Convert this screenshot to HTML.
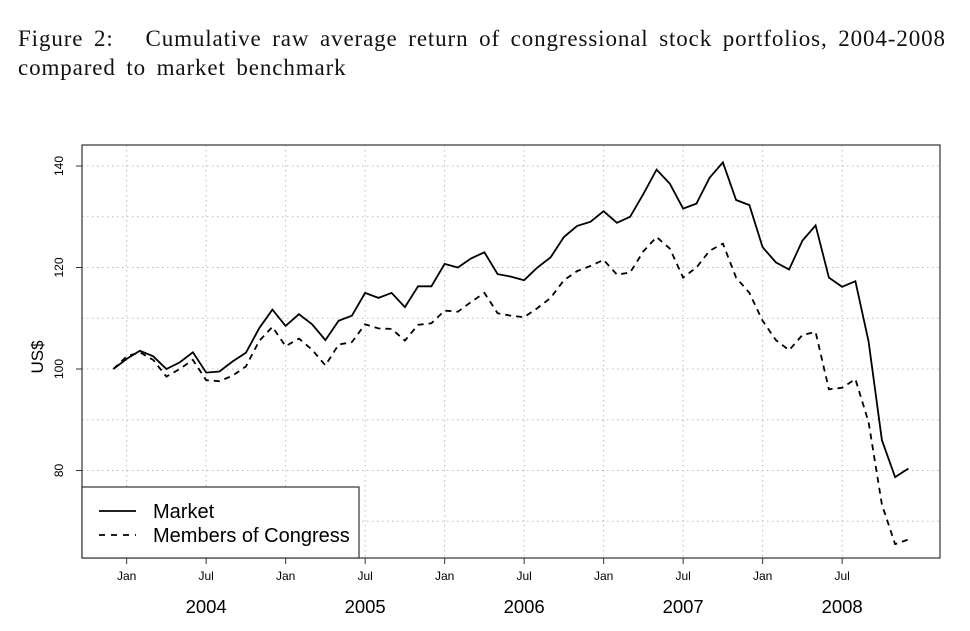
<!DOCTYPE html>
<html><head><meta charset="utf-8"><style>
body{margin:0;background:#fff;width:970px;height:631px;overflow:hidden}
.t{position:absolute;left:18px;font-family:"Liberation Serif",serif;font-size:23px;color:#111;letter-spacing:0.88px;word-spacing:4px;white-space:nowrap}
</style></head><body>
<div class="t" style="top:26px">Figure 2: &nbsp;&nbsp;Cumulative raw average return of congressional stock portfolios, 2004-2008</div>
<div class="t" style="top:55px">compared to market benchmark</div>
<svg id="c" width="970" height="631" style="position:absolute;left:0;top:0" font-family="Liberation Sans, sans-serif"></svg>
<script>
const market=[100,102,103.6,102.5,100,101.3,103.3,99.3,99.5,101.5,103.2,108,111.7,108.5,110.8,108.8,105.7,109.5,110.5,115,114,115,112.2,116.3,116.3,120.7,120,121.8,123,118.7,118.2,117.5,120,122,126,128.2,129,131.1,128.8,130,134.5,139.3,136.5,131.6,132.6,137.7,140.7,133.3,132.3,124,121,119.6,125.3,128.3,118,116.2,117.3,105.4,86,78.7,80.4];
const congress=[100,102.5,103.3,101.8,98.5,100,101.8,97.8,97.6,98.7,100.5,105.5,108.3,104.5,106,103.8,100.7,104.8,105.3,108.8,108,107.9,105.6,108.7,109,111.5,111.3,113.2,115,111,110.5,110.2,112,114,117.5,119.3,120.3,121.5,118.6,119,123.2,126,123.7,118,120,123.3,124.7,118,115,109.5,105.7,103.7,106.7,107.3,96,96.3,98,89.5,73.3,65.5,66.4];
const yTicks=[80,100,120,140];
const yGrid=[70,80,90,100,110,120,130,140];
const monthTicks=[1,7,13,19,25,31,37,43,49,55];
const monthLabels=["Jan","Jul","Jan","Jul","Jan","Jul","Jan","Jul","Jan","Jul"];
const years=["2004","2005","2006","2007","2008"];
const L=82,R=940,T=145,B=558;
const X=i=>113.4+i*13.25;
const Y=v=>369-(v-100)*5.075;
const svg=document.getElementById('c');
const NS='http://www.w3.org/2000/svg';
function el(t,a,p){const e=document.createElementNS(NS,t);for(const k in a)e.setAttribute(k,a[k]);(p||svg).appendChild(e);return e;}
yGrid.forEach(v=>{const g=el('line',{x1:L,x2:R,y1:Y(v),y2:Y(v),stroke:'#bbb','stroke-dasharray':'1.5,3.5','stroke-width':1});

});
monthTicks.forEach(m=>{const g=el('line',{x1:X(m),x2:X(m),y1:T,y2:B,stroke:'#bbb','stroke-dasharray':'1.5,3.5','stroke-width':1});

});
function path(d,dash,name){const p=el('path',{d:d.map((v,i)=>(i?'L':'M')+X(i).toFixed(1)+','+Y(v).toFixed(1)).join(''),fill:'none',stroke:'#000','stroke-width':1.8,'stroke-dasharray':dash});

}
path(market,'none','market-line');
path(congress,'6,5','congress-line');
const box=el('rect',{x:L,y:T,width:R-L,height:B-T,fill:'none',stroke:'#333','stroke-width':1.2});


yTicks.forEach(v=>{el('line',{x1:L-6,x2:L,y1:Y(v),y2:Y(v),stroke:'#333'});
const t=el('text',{x:0,y:0,'font-size':12,'text-anchor':'middle',transform:`translate(63,${Y(v)}) rotate(-90)`});t.textContent=v;

});
monthTicks.forEach((m,i)=>{el('line',{x1:X(m),x2:X(m),y1:B,y2:B+6,stroke:'#333'});
const t=el('text',{x:X(m),y:580,'font-size':12,'text-anchor':'middle'});t.textContent=monthLabels[i];

});
years.forEach((y,i)=>{const t=el('text',{x:X(7+12*i),y:613,'font-size':18.5,'text-anchor':'middle'});t.textContent=y;

});
const yt=el('text',{x:0,y:0,'font-size':17,'text-anchor':'middle',transform:'translate(43,357) rotate(-90)'});yt.textContent='US$';


const lg=el('g',{});


el('rect',{x:L,y:487,width:277,height:71,fill:'#fff',stroke:'#333','stroke-width':1.2},lg);
el('line',{x1:99,x2:136,y1:511,y2:511,stroke:'#000','stroke-width':1.8},lg);
el('line',{x1:99,x2:136,y1:535,y2:535,stroke:'#000','stroke-width':1.8,'stroke-dasharray':'6,6'},lg);
const l1=el('text',{x:153,y:518,'font-size':20},lg);l1.textContent='Market';


const l2=el('text',{x:153,y:542,'font-size':20},lg);l2.textContent='Members of Congress';


</script>
</body></html>
